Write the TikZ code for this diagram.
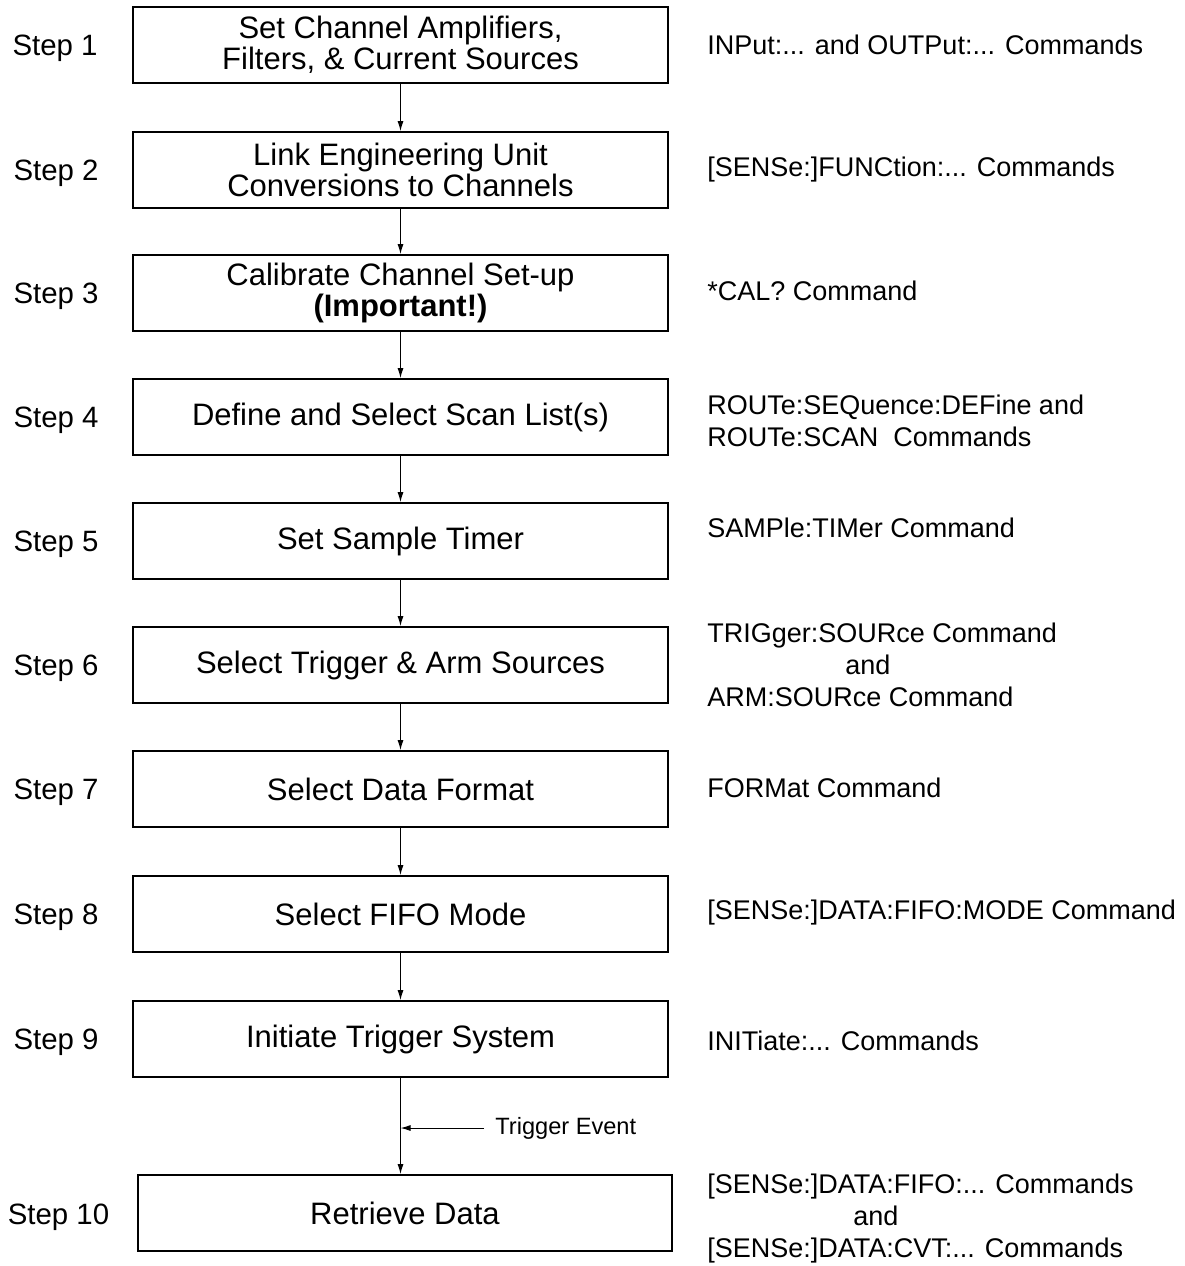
\documentclass[tikz,border=0pt]{standalone}
\usepackage{fontspec}
\setmainfont{Liberation Sans}
\usetikzlibrary{arrows.meta}
\begin{document}
\begin{tikzpicture}[x=0.5pt,y=-0.5pt,
  stepbox/.style={draw, line width=0.9pt, minimum width=267.5pt, minimum height=38pt,
    inner sep=0pt, align=center, font=\fontsize{15.5}{15.5}\selectfont},
  steplabel/.style={inner sep=0pt, yshift=-1.5pt, font=\fontsize{14.7}{16}\selectfont},
  cmd/.style={anchor=west, inner sep=0pt, align=left, font=\fontsize{13.5}{16}\selectfont},
  arr/.style={line width=0.5pt, -{Latex[length=5pt,width=3pt]}},
]
\useasboundingbox (0,0) rectangle (1185,1266);

% boxes
\node[stepbox] (b1) at (400.5,45) {Set Channel Amplifiers,\\Filters, \& Current Sources};
\node[stepbox] (b2) at (400.5,170) {Link Engineering Unit\\Conversions to Channels};
\node[stepbox] (b3) at (400.5,293) {Calibrate Channel Set-up\\\textbf{(Important!)}};
\node[stepbox] (b4) at (400.5,417) {Define and Select Scan List(s)};
\node[stepbox] (b5) at (400.5,541) {Set Sample Timer};
\node[stepbox] (b6) at (400.5,665) {Select Trigger \& Arm Sources};
\node[stepbox] (b7) at (400.5,789) {Select Data Format};
\node[stepbox] (b8) at (400.5,914) {Select FIFO Mode};
\node[stepbox] (b9) at (400.5,1039) {Initiate Trigger System};
\node[stepbox, minimum width=267pt] (b10) at (405,1213) {Retrieve Data};

% step labels
\node[steplabel] (s1) at (55,45) {Step 1};
\node[steplabel] (s2) at (56,170) {Step 2};
\node[steplabel] (s3) at (56,293) {Step 3};
\node[steplabel] (s4) at (56,417) {Step 4};
\node[steplabel] (s5) at (56,541) {Step 5};
\node[steplabel] (s6) at (56,665) {Step 6};
\node[steplabel] (s7) at (56,789) {Step 7};
\node[steplabel] (s8) at (56,914) {Step 8};
\node[steplabel] (s9) at (56,1039) {Step 9};
\node[steplabel] (s10) at (58.5,1214) {Step 10};

% commands
\node[cmd] (c1) at (707,45) {INPut:... and OUTPut:... Commands};
\node[cmd] (c2) at (707,170) {{}[SENSe:]FUNCtion:... Commands};
\node[cmd] (c3) at (707,291) {*CAL? Command};
\node[cmd] (c4) at (707,421) {ROUTe:SEQuence:DEFine and\\ROUTe:SCAN\ \ Commands};
\node[cmd] (c5) at (707,528) {SAMPle:TIMer Command};
\node[cmd] (c6) at (707,665) {TRIGger:SOURce Command\\\hspace*{69pt}and\\ARM:SOURce Command};
\node[cmd] (c7) at (707,788) {FORMat Command};
\node[cmd] (c8) at (707,913) {{}[SENSe:]DATA:FIFO:MODE Command};
\node[cmd] (c9) at (707,1041) {INITiate:... Commands};
\node[cmd] (c10) at (707,1219) {{}[SENSe:]DATA:FIFO:... Commands\\\hspace*{73pt}and\\{}[SENSe:]DATA:CVT:... Commands};

% connectors
\draw[arr] (b1.south) -- (b2.north);
\draw[arr] (b2.south) -- (b3.north);
\draw[arr] (b3.south) -- (b4.north);
\draw[arr] (b4.south) -- (b5.north);
\draw[arr] (b5.south) -- (b6.north);
\draw[arr] (b6.south) -- (b7.north);
\draw[arr] (b7.south) -- (b8.north);
\draw[arr] (b8.south) -- (b9.north);
\draw[arr] (b9.south) -- (b9.south |- b10.north);

% trigger event
\coordinate (trig) at (484,1128);
\draw[arr] (trig) -- (trig -| b9.south);
\node[anchor=west, inner sep=0pt, font=\fontsize{11.8}{14}\selectfont] (te) at (495,1128) {Trigger Event};
\end{tikzpicture}
\end{document}
